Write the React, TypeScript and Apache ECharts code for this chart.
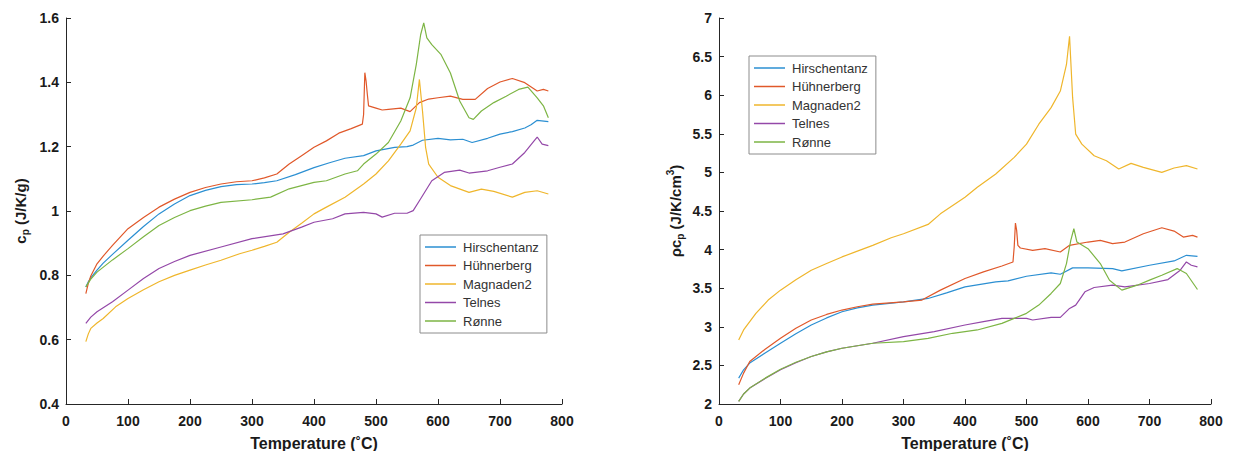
import React, { useEffect, useRef } from "react";
import * as echarts from "echarts";

const seriesNames = ["Hirschentanz", "Hühnerberg", "Magnaden2", "Telnes", "Rønne"];
const seriesColors = ["#2b8fd2", "#e0582a", "#efb62c", "#9448a8", "#7db544"];

// Left panel: c_p (J/K/g)
const hirschentanzCp: [number, number][] = [
  [32, 0.764], [36, 0.78], [40, 0.792], [50, 0.816], [60, 0.838], [75, 0.865], [100, 0.909], [125, 0.952], [150, 0.991], [175, 1.022], [200, 1.048],
  [225, 1.064], [250, 1.076], [275, 1.082], [300, 1.084], [320, 1.088], [340, 1.094], [370, 1.113], [400, 1.135],
  [425, 1.15], [450, 1.164], [480, 1.172], [500, 1.187], [530, 1.198], [550, 1.2], [560, 1.205], [575, 1.22],
  [600, 1.226], [620, 1.221], [640, 1.223], [655, 1.213], [680, 1.226], [700, 1.239], [720, 1.247], [740, 1.258],
  [750, 1.268], [760, 1.282], [778, 1.278],
];
const huhnerbergCp: [number, number][] = [
  [32, 0.743], [36, 0.775], [40, 0.798], [50, 0.836], [60, 0.86], [75, 0.893], [100, 0.945], [125, 0.98], [150, 1.012], [175, 1.037], [200, 1.058],
  [225, 1.073], [250, 1.084], [275, 1.091], [300, 1.094], [320, 1.103], [340, 1.115], [360, 1.146], [380, 1.172],
  [400, 1.198], [420, 1.218], [440, 1.242], [460, 1.256], [478, 1.27], [480, 1.3], [482, 1.43], [484, 1.404],
  [486, 1.363], [488, 1.327], [500, 1.32], [510, 1.314], [520, 1.316], [540, 1.32], [555, 1.309], [570, 1.337],
  [585, 1.348], [600, 1.352], [620, 1.357], [640, 1.347], [660, 1.347], [680, 1.381], [700, 1.401], [720, 1.412],
  [740, 1.399], [760, 1.373], [770, 1.378], [778, 1.373],
];
const magnaden2Cp: [number, number][] = [
  [32, 0.594], [36, 0.618], [40, 0.635], [50, 0.652], [60, 0.666], [80, 0.702], [100, 0.728], [125, 0.755], [150, 0.78], [175, 0.8], [200, 0.816],
  [225, 0.832], [250, 0.847], [280, 0.867], [300, 0.878], [320, 0.89], [340, 0.903], [360, 0.934], [380, 0.962],
  [400, 0.991], [420, 1.012], [450, 1.043], [480, 1.084], [500, 1.115], [520, 1.156], [540, 1.208], [555, 1.249],
  [565, 1.321], [570, 1.409], [575, 1.311], [580, 1.198], [585, 1.146], [600, 1.105], [620, 1.079], [650, 1.058],
  [670, 1.068], [690, 1.061], [720, 1.043], [740, 1.058], [760, 1.063], [778, 1.053],
];
const telnesCp: [number, number][] = [
  [32, 0.651], [40, 0.67], [50, 0.687], [75, 0.718], [100, 0.754], [125, 0.79], [150, 0.821], [175, 0.843], [200, 0.862],
  [250, 0.888], [300, 0.914], [350, 0.929], [380, 0.95], [400, 0.965], [430, 0.976], [450, 0.991], [480, 0.996],
  [500, 0.991], [510, 0.981], [530, 0.993], [550, 0.993], [560, 1.001], [570, 1.032], [580, 1.063], [590, 1.094],
  [610, 1.12], [635, 1.127], [650, 1.118], [680, 1.125], [700, 1.136], [720, 1.146], [740, 1.182], [755, 1.218],
  [760, 1.23], [768, 1.208], [778, 1.203],
];
const ronneCp: [number, number][] = [
  [32, 0.764], [40, 0.788], [50, 0.81], [75, 0.848], [100, 0.883], [125, 0.92], [150, 0.955], [175, 0.98], [200, 1.001],
  [225, 1.015], [250, 1.027], [300, 1.035], [330, 1.043], [360, 1.069], [400, 1.089], [420, 1.094], [450, 1.115],
  [470, 1.125], [480, 1.146], [500, 1.177], [520, 1.213], [540, 1.28], [555, 1.352], [565, 1.456], [572, 1.548],
  [577, 1.585], [582, 1.538], [590, 1.517], [605, 1.486], [620, 1.429], [635, 1.342], [650, 1.29], [657, 1.285],
  [670, 1.311], [690, 1.337], [710, 1.357], [730, 1.378], [745, 1.385], [760, 1.352], [770, 1.327], [778, 1.29],
];

// Right panel: rho c_p (J/K/cm3)
const hirschentanzRhoCp: [number, number][] = [
  [32, 2.335], [40, 2.443], [50, 2.53], [75, 2.66], [100, 2.787], [125, 2.91], [150, 3.023], [175, 3.115], [200, 3.195],
  [225, 3.245], [250, 3.281], [300, 3.324], [340, 3.367], [370, 3.44], [400, 3.517], [450, 3.582], [470, 3.595],
  [500, 3.655], [540, 3.698], [555, 3.681], [575, 3.763], [600, 3.763], [640, 3.754], [655, 3.724], [700, 3.797],
  [740, 3.853], [760, 3.926], [778, 3.913],
];
const huhnerbergRhoCp: [number, number][] = [
  [32, 2.249], [40, 2.4], [50, 2.55], [75, 2.71], [100, 2.851], [125, 2.98], [150, 3.088], [175, 3.16], [200, 3.217],
  [225, 3.26], [250, 3.294], [300, 3.324], [330, 3.346], [360, 3.475], [400, 3.625], [430, 3.711], [460, 3.788],
  [478, 3.84], [480, 4.034], [482, 4.343], [484, 4.249], [486, 4.055], [490, 4.021], [510, 3.991], [530, 4.012],
  [555, 3.969], [570, 4.055], [600, 4.098], [620, 4.12], [640, 4.077], [660, 4.098], [690, 4.206], [720, 4.283],
  [740, 4.24], [755, 4.162], [770, 4.184], [778, 4.162],
];
const magnaden2RhoCp: [number, number][] = [
  [32, 2.83], [40, 2.959], [60, 3.174], [80, 3.346], [100, 3.475], [125, 3.61], [150, 3.733], [175, 3.82], [200, 3.905],
  [225, 3.98], [250, 4.055], [280, 4.154], [300, 4.206], [340, 4.326], [360, 4.463], [400, 4.678], [420, 4.807],
  [450, 4.979], [480, 5.194], [500, 5.366], [520, 5.624], [540, 5.839], [555, 6.054], [565, 6.398], [570, 6.764],
  [575, 5.968], [580, 5.495], [590, 5.366], [610, 5.216], [630, 5.151], [650, 5.044], [670, 5.117], [690, 5.065],
  [720, 5.001], [740, 5.057], [760, 5.087], [778, 5.044],
];
const telnesRhoCp: [number, number][] = [
  [32, 2.034], [40, 2.13], [50, 2.206], [75, 2.33], [100, 2.443], [125, 2.535], [150, 2.615], [175, 2.675], [200, 2.722],
  [250, 2.787], [300, 2.873], [350, 2.937], [400, 3.023], [430, 3.066], [460, 3.109], [500, 3.109], [510, 3.088],
  [540, 3.122], [555, 3.122], [570, 3.238], [580, 3.281], [595, 3.453], [610, 3.509], [640, 3.539], [660, 3.518],
  [700, 3.561], [730, 3.612], [750, 3.733], [760, 3.84], [768, 3.797], [778, 3.776],
];
const ronneRhoCp: [number, number][] = [
  [32, 2.034], [40, 2.13], [50, 2.206], [75, 2.335], [100, 2.451], [125, 2.54], [150, 2.615], [175, 2.675], [200, 2.722],
  [250, 2.787], [300, 2.808], [340, 2.851], [380, 2.916], [420, 2.959], [460, 3.045], [480, 3.109], [500, 3.174],
  [520, 3.281], [540, 3.432], [555, 3.561], [565, 3.819], [572, 4.12], [577, 4.27], [582, 4.098], [600, 4.012],
  [620, 3.819], [635, 3.604], [655, 3.475], [680, 3.539], [700, 3.604], [720, 3.668], [745, 3.754], [760, 3.69],
  [778, 3.483],
];

const leftData = [hirschentanzCp, huhnerbergCp, magnaden2Cp, telnesCp, ronneCp];
const rightData = [hirschentanzRhoCp, huhnerbergRhoCp, magnaden2RhoCp, telnesRhoCp, ronneRhoCp];

const FONT = "'Liberation Sans', Arial, sans-serif";

export default function App() {
  const ref = useRef<HTMLDivElement>(null);
  useEffect(() => {
    if (!ref.current) return;
    const chart = echarts.init(ref.current, undefined, { renderer: "svg" });
    const axisCommon = {
      axisLine: { show: true, lineStyle: { color: "#262626", width: 1 } },
      axisTick: { show: true, inside: true, length: 5, lineStyle: { color: "#262626" } },
      splitLine: { show: false },
      axisLabel: { color: "#1a1a1a", fontFamily: FONT, fontSize: 14, fontWeight: "bold" as const },
    };
    const xAxisFor = (gridIndex: number) => ({
      type: "value" as const,
      gridIndex,
      min: 0,
      max: 800,
      interval: 100,
      ...axisCommon,
      axisLabel: { ...axisCommon.axisLabel, margin: 10 },
      name: "Temperature (˚C)",
      nameLocation: "middle" as const,
      nameGap: 31,
      nameTextStyle: { color: "#1a1a1a", fontFamily: FONT, fontSize: 16, fontWeight: "bold" as const },
    });
    const nameRich = {
      b: { fontFamily: FONT, fontSize: 15, fontWeight: "bold" as const, color: "#1a1a1a", lineHeight: 20, verticalAlign: "middle" as const },
      s: { fontFamily: FONT, fontSize: 10, fontWeight: "bold" as const, color: "#1a1a1a", lineHeight: 20, verticalAlign: "bottom" as const },
      u: { fontFamily: FONT, fontSize: 10, fontWeight: "bold" as const, color: "#1a1a1a", lineHeight: 20, verticalAlign: "top" as const },
    };
    const legendFor = (left: number, top: number) => ({
      orient: "vertical" as const,
      left,
      top,
      data: seriesNames,
      icon: "rect",
      itemWidth: 31,
      itemHeight: 1.5,
      itemGap: 4.5,
      padding: [5, 8, 5, 5],
      borderColor: "#8c8c8c",
      borderWidth: 1,
      backgroundColor: "#ffffff",
      selectedMode: false,
      textStyle: { fontFamily: FONT, fontSize: 13, color: "#333", lineHeight: 14, padding: [0, 0, 0, 2] },
    });
    const series: any[] = [];
    leftData.forEach((d, i) =>
      series.push({
        type: "line",
        name: seriesNames[i],
        xAxisIndex: 0,
        yAxisIndex: 0,
        data: d,
        symbol: "none",
        showSymbol: false,
        lineStyle: { width: 1.2, color: seriesColors[i] },
        itemStyle: { color: seriesColors[i] },
      })
    );
    rightData.forEach((d, i) =>
      series.push({
        type: "line",
        name: seriesNames[i],
        xAxisIndex: 1,
        yAxisIndex: 1,
        data: d,
        symbol: "none",
        showSymbol: false,
        lineStyle: { width: 1.2, color: seriesColors[i] },
        itemStyle: { color: seriesColors[i] },
      })
    );
    chart.setOption({
      animation: false,
      backgroundColor: "#ffffff",
      grid: [
        { left: 66, top: 18, width: 496, height: 386 },
        { left: 719, top: 18, width: 492, height: 386 },
      ],
      xAxis: [xAxisFor(0), xAxisFor(1)],
      yAxis: [
        {
          type: "value",
          gridIndex: 0,
          min: 0.4,
          max: 1.6,
          interval: 0.2,
          ...axisCommon,
          axisLabel: { ...axisCommon.axisLabel, margin: 7 },
          name: "{b|c}{s|p}{b| (J/K/g)}",
          nameLocation: "middle",
          nameGap: 36,
          nameTextStyle: { rich: nameRich },
        },
        {
          type: "value",
          gridIndex: 1,
          min: 2,
          max: 7,
          interval: 0.5,
          ...axisCommon,
          axisLabel: { ...axisCommon.axisLabel, margin: 7 },
          name: "{b|ρc}{s|p}{b| (J/K/cm}{u|3}{b|)}",
          nameLocation: "middle",
          nameGap: 34,
          nameTextStyle: { rich: nameRich },
        },
      ],
      legend: [legendFor(420, 235), legendFor(749, 56)],
      series,
    });
    return () => chart.dispose();
  }, []);
  return <div ref={ref} style={{ width: 1233, height: 459, margin: -8 }} />;
}
